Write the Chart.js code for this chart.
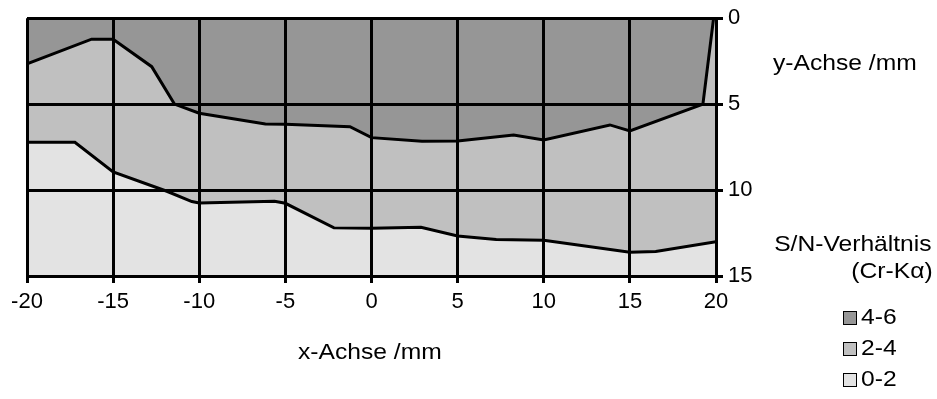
<!DOCTYPE html>
<html>
<head>
<meta charset="utf-8">
<script src="https://cdn.jsdelivr.net/npm/chart.js@4"></script>
<style>
  body { margin: 0; background: #fff; font-family: "Liberation Sans", Arial, sans-serif; }
  #wrap { position: relative; width: 937px; height: 399px; }
  .lbl { position: absolute; font-size: 22px; color: #000; white-space: nowrap; line-height: 1; }
  .wide { transform: scaleX(1.12); }
  .box { display: inline-block; width: 12px; height: 12px; border: 1.5px solid #000; margin-right: 4px; vertical-align: -1px; }
</style>
</head>
<body>
<div id="wrap">
  <canvas id="chart" width="937" height="399"></canvas>
  <div class="lbl wide" style="left:298px; top:341px; transform-origin:left;">x-Achse /mm</div>
  <div class="lbl wide" style="left:773px; top:52px; transform-origin:left;">y-Achse /mm</div>
  <div class="lbl wide" style="right:5px; top:233px; transform-origin:right;">S/N-Verhältnis</div>
  <div class="lbl wide" style="right:4px; top:260px; transform-origin:right;">(Cr-Kα)</div>
  <div id="legend"></div>
</div>
<script>
/* boundary between 4-6 and 2-4 */
const upperX = [-20, -16.25, -15, -12.76, -11.44, -10, -6.16, -5, -1.25, 0, 2.93, 5, 8.25, 10, 13.84, 15, 19.24, 19.86, 20];
const upperY = [2.66, 1.22, 1.22, 2.82, 5.0, 5.53, 6.15, 6.17, 6.31, 6.95, 7.16, 7.14, 6.79, 7.08, 6.21, 6.56, 5.0, 0, 0];

/* boundary between 2-4 and 0-2 */
const lowerX = [-20, -17.22, -15, -11.88, -10.43, -10, -5.63, -5, -2.18, 0, 2.87, 5, 7.24, 10, 15, 16.5, 20];
const lowerY = [7.22, 7.22, 8.95, 10.07, 10.67, 10.75, 10.65, 10.77, 12.2, 12.22, 12.17, 12.67, 12.87, 12.92, 13.62, 13.58, 13.0];

const xTicks = [-20, -15, -10, -5, 0, 5, 10, 15, 20];
const yTicks = [0, 5, 10, 15];

const levels = ["4-6", "2-4", "0-2"];
const levelColors = ["#969696", "#c0c0c0", "#e3e3e3"];

const toPoints = (xs, ys) => xs.map((x, i) => ({ x: x, y: ys[i] }));

/* Legend */
const legend = document.getElementById("legend");
levels.forEach((name, i) => {
  const d = document.createElement("div");
  d.className = "lbl";
  d.style.left = "843px";
  d.style.top = (306 + i * 31) + "px";
  d.innerHTML = `<span class="box" style="background:${levelColors[i]}"></span><span class="wide" style="display:inline-block;transform-origin:left;">${name}</span>`;
  legend.appendChild(d);
});

const font = { family: "'Liberation Sans', Arial, sans-serif", size: 22 };

new Chart(document.getElementById("chart"), {
  type: "line",
  data: {
    datasets: [
      {
        data: toPoints(upperX, upperY),
        borderColor: "#000",
        borderWidth: 3,
        backgroundColor: levelColors[0],
        fill: { target: { value: 0 } },
        pointRadius: 0,
        tension: 0
      },
      {
        data: toPoints(lowerX, lowerY),
        borderColor: "#000",
        borderWidth: 3,
        backgroundColor: levelColors[1],
        fill: "-1",
        pointRadius: 0,
        tension: 0
      },
      {
        data: toPoints(lowerX, lowerY),
        borderWidth: 0,
        borderColor: "rgba(0,0,0,0)",
        backgroundColor: levelColors[2],
        fill: { target: { value: 15 } },
        pointRadius: 0,
        tension: 0
      }
    ]
  },
  options: {
    responsive: false,
    animation: false,
    layout: { padding: { left: 27, top: 18, right: 0, bottom: 0 } },
    plugins: { legend: { display: false }, tooltip: { enabled: false } },
    scales: {
      x: {
        type: "linear",
        min: -20,
        max: 20,
        afterBuildTicks: s => { s.ticks = xTicks.map(v => ({ value: v })); },
        afterFit: s => { s.height = 123; },
        ticks: { color: "#000", font: font, padding: 6, maxRotation: 0, z: 1 },
        grid: { color: "#000", lineWidth: 3, tickLength: 7, z: 1 },
        border: { color: "#000", width: 3, z: 1 }
      },
      y: {
        type: "linear",
        position: "right",
        reverse: true,
        min: 0,
        max: 15,
        afterBuildTicks: s => { s.ticks = yTicks.map(v => ({ value: v })); },
        afterFit: s => { s.width = 221; },
        ticks: { color: "#000", font: font, padding: 5, z: 1 },
        grid: { color: "#000", lineWidth: 3, tickLength: 7, z: 1 },
        border: { color: "#000", width: 3, z: 1 }
      }
    }
  }
});
</script>
</body>
</html>
